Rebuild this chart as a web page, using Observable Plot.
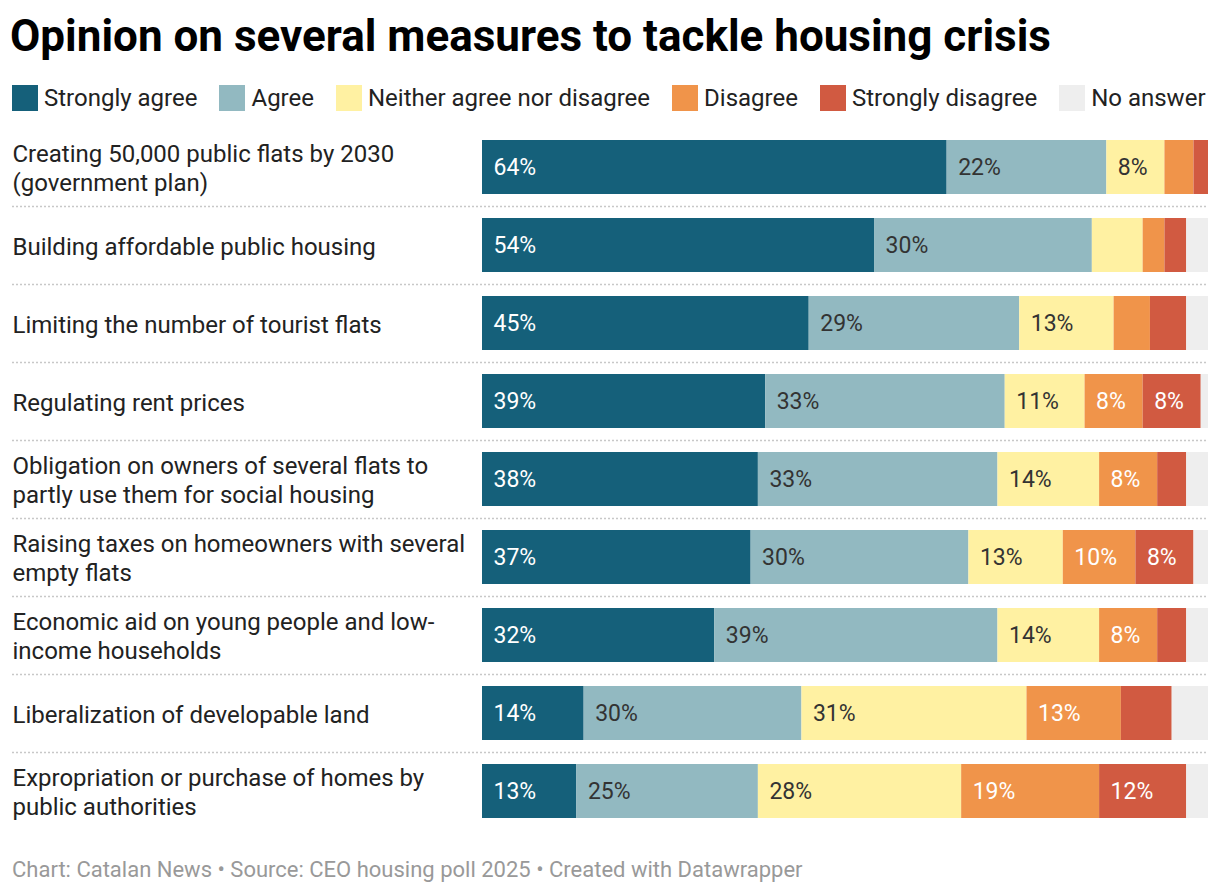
<!DOCTYPE html>
<html>
<head>
<meta charset="utf-8">
<script src="https://cdn.jsdelivr.net/npm/d3@7"></script>
<script src="https://cdn.jsdelivr.net/npm/@observablehq/plot@0.6"></script>
<style>
  body { margin: 0; background: #fff; font-family: Roboto, sans-serif; width: 1220px; height: 896px; position: relative; overflow: hidden; }
  #title { position: absolute; left: 10px; top: 14px; font: 700 44px/1 Roboto; color: #000; white-space: nowrap; }
  #legend { position: absolute; left: 12px; top: 85px; display: flex; align-items: center; height: 26px; }
  .item { display: flex; align-items: center; margin-right: 22px; font: 400 24px/1 Roboto; color: #222; white-space: nowrap; }
  .sw { width: 26px; height: 26px; margin-right: 6px; }
  #chart { position: absolute; left: 0; top: 128px; }
  #footer { position: absolute; left: 12px; top: 859px; font: 400 22px/1 Roboto; color: #999; white-space: nowrap; }
</style>
</head>
<body>
<div id="title">Opinion on several measures to tackle housing crisis</div>
<div id="legend"></div>
<div id="chart"></div>
<div id="footer">Chart: Catalan News • Source: CEO housing poll 2025 • Created with Datawrapper</div>
<script>
const measures = [
  "Creating 50,000 public flats by 2030\n(government plan)",
  "Building affordable public housing",
  "Limiting the number of tourist flats",
  "Regulating rent prices",
  "Obligation on owners of several flats to\npartly use them for social housing",
  "Raising taxes on homeowners with several\nempty flats",
  "Economic aid on young people and low-\nincome households",
  "Liberalization of developable land",
  "Expropriation or purchase of homes by\npublic authorities"
];
const categories = ["Strongly agree", "Agree", "Neither agree nor disagree", "Disagree", "Strongly disagree", "No answer"];
const colors = ["#15607a", "#92b9c1", "#fff1a2", "#f0944a", "#d15a41", "#eeeeee"];

const stronglyAgree    = [64, 54, 45, 39, 38, 37, 32, 14, 13];
const agree            = [22, 30, 29, 33, 33, 30, 39, 30, 25];
const neither          = [ 8,  7, 13, 11, 14, 13, 14, 31, 28];
const disagree         = [ 4,  3,  5,  8,  8, 10,  8, 13, 19];
const stronglyDisagree = [ 2,  3,  5,  8,  4,  8,  4,  7, 12];
const noAnswer         = [ 0,  3,  3,  1,  3,  2,  3,  5,  3];

const series = [stronglyAgree, agree, neither, disagree, stronglyDisagree, noAnswer];
const whiteText = new Set(["Strongly agree", "Disagree", "Strongly disagree"]);

const data = [];
measures.forEach((m, i) => {
  categories.forEach((c, j) => {
    data.push({measure: m, category: c, value: series[j][i]});
  });
});

// legend
const legend = document.getElementById("legend");
categories.forEach((c, j) => {
  const it = document.createElement("div");
  it.className = "item";
  const sw = document.createElement("div");
  sw.className = "sw";
  sw.style.background = colors[j];
  it.appendChild(sw);
  it.appendChild(document.createTextNode(c));
  legend.appendChild(it);
});

const label = d => d.value >= 8 ? d.value + "%" : null;

const chart = Plot.plot({
  width: 1220,
  height: 700,
  marginTop: 12,
  marginBottom: 10,
  marginLeft: 12,
  marginRight: 12,
  style: {fontFamily: "Roboto", background: "transparent", overflow: "visible"},
  x: {domain: [0, 100], range: [482, 1208], axis: null},
  y: {domain: measures, paddingInner: 24 / 78, paddingOuter: 0, round: false, axis: null},
  color: {domain: categories, range: colors},
  marks: [
    Plot.ruleY(measures.slice(1), {y: d => d, dy: -39, stroke: "#c8c8c8", strokeWidth: 1.5, strokeDasharray: "2,2"}),
    Plot.barX(data, {x: "value", y: "measure", fill: "category"}),
    Plot.text(data, Plot.stackX1({
      x: "value", y: "measure", z: "category",
      text: d => whiteText.has(d.category) ? label(d) : null,
      fill: "white", textAnchor: "start", dx: 11, fontSize: 23
    })),
    Plot.text(data, Plot.stackX1({
      x: "value", y: "measure", z: "category",
      text: d => whiteText.has(d.category) ? null : label(d),
      fill: "#333", textAnchor: "start", dx: 11, fontSize: 23
    })),
    Plot.text(measures, {
      y: d => d, text: d => d, frameAnchor: "left", textAnchor: "start",
      lineHeight: 1.17, fontSize: 24, fill: "#222"
    })
  ]
});
document.getElementById("chart").appendChild(chart);
</script>
</body>
</html>
